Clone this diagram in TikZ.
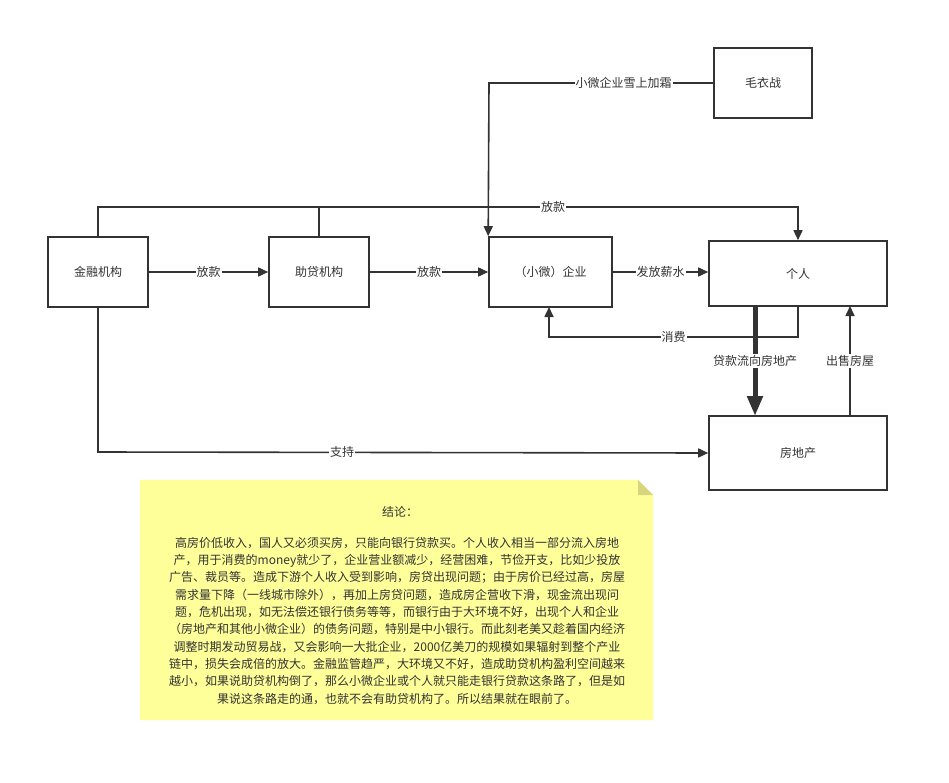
\documentclass[tikz,border=0pt]{standalone}
\usepackage{fontspec}
\setmainfont{Noto Sans CJK SC}
\usetikzlibrary{arrows.meta}
\definecolor{ln}{HTML}{333333}
\definecolor{note}{HTML}{FFFF99}
\definecolor{fold}{HTML}{D6D67F}
\begin{document}
\begin{tikzpicture}[x=1pt,y=-1pt,
  box/.style={draw=ln,line width=1.6pt,fill=white,minimum width=#1,font=\fontsize{12}{14}\selectfont,text=ln,inner sep=0pt},
  conn/.style={draw=ln,line width=1.6pt,-{Triangle[length=10pt,width=9pt]}},
  lab/.style={fill=white,inner sep=1pt,font=\fontsize{12}{14}\selectfont,text=ln}]
\useasboundingbox (0,0) rectangle (949,783);
\node[box=100pt,minimum height=70pt] (jr) at (98,272) {金融机构};
\node[box=100pt,minimum height=70pt] (zd) at (319,272) {助贷机构};
\node[box=123pt,minimum height=70pt] (qy) at (550.5,272) {（小微）企业};
\node[box=178pt,minimum height=65pt] (gr) at (798,273.5) {个人};
\node[box=178pt,minimum height=74pt] (fd) at (798,453) {房地产};
\node[box=98pt,minimum height=70pt] (my) at (763,83) {毛衣战};
% note
\fill[note] (140,480) -- (638,480) -- (653,495) -- (653,720) -- (140,720) -- cycle;
\fill[fold] (638,480) -- (653,495) -- (638,495) -- cycle;
\node[font=\fontsize{12}{14}\selectfont,text=ln] (nt) at (400,512) {结论：};
\node[font=\fontsize{12}{17.3}\selectfont,text=ln,align=center,anchor=north,inner sep=0pt] (nb) at (397,537) {高房价低收入，国人又必须买房，只能向银行贷款买。个人收入相当一部分流入房地\\产，用于消费的money就少了，企业营业额减少，经营困难，节俭开支，比如少投放\\广告、裁员等。造成下游个人收入受到影响，房贷出现问题；由于房价已经过高，房屋\\需求量下降（一线城市除外），再加上房贷问题，造成房企营收下滑，现金流出现问\\题，危机出现，如无法偿还银行债务等等，而银行由于大环境不好，出现个人和企业\\（房地产和其他小微企业）的债务问题，特别是中小银行。而此刻老美又趁着国内经济\\调整时期发动贸易战，又会影响一大批企业，2000亿美刀的规模如果辐射到整个产业\\链中，损失会成倍的放大。金融监管趋严，大环境又不好，造成助贷机构盈利空间越来\\越小，如果说助贷机构倒了，那么小微企业或个人就只能走银行贷款这条路了，但是如\\果说这条路走的通，也就不会有助贷机构了。所以结果就在眼前了。};
% connectors
\draw[conn] (jr) -- node[lab]{放款} (zd);
\draw[conn] (zd) -- node[lab]{放款} (qy);
\draw[conn] (qy) -- node[lab]{发放薪水} (gr.west|-qy.east);
\draw[conn] (jr.north) -- (98,207) -- node[lab,pos=0.65]{放款} (798,207) -- (gr.north);
\draw[draw=ln,line width=1.6pt] (zd.north) -- (319,207);
\draw[conn] (my.west) -- node[lab,pos=0.4]{小微企业雪上加霜} (489,83) -- (qy.north west);
\draw[conn] (gr.south) -- (798,337) -- node[lab,pos=0.5]{消费} (549,337) -- (549,307);
\draw[draw=ln,line width=5pt,-{Triangle[length=20pt,width=15pt]}] (755,306) -- node[lab]{贷款流向房地产} (755,416);
\draw[conn] (850,416) -- node[lab]{出售房屋} (850,306);
\draw[conn] (jr.south) -- (98,452) -- node[lab,pos=0.4]{支持} (fd.west);
\end{tikzpicture}
\end{document}
